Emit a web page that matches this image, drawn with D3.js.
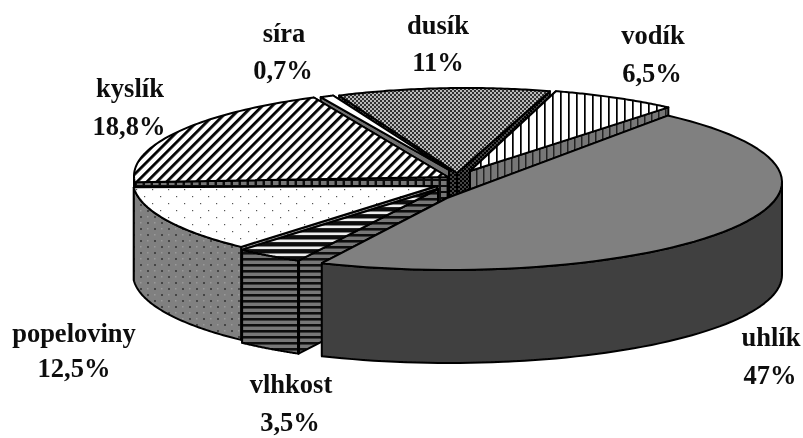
<!DOCTYPE html>
<html><head><meta charset="utf-8">
<script src="https://cdn.jsdelivr.net/npm/d3@7"></script>
<style>html,body{margin:0;padding:0;background:#fff}svg{display:block}text{font-family:"Liberation Serif",serif;font-weight:bold;fill:#111;font-size:26.5px;text-anchor:middle}</style>
</head><body><svg id="c" width="803" height="438"></svg>
<script>
// DATA (clockwise round the pie)
const categories=["uhlík","vlhkost","popeloviny","kyslík","síra","dusík","vodík"];
const values=[47,3.5,12.5,18.8,0.7,11,6.5];
const valueLabels=["47%","3,5%","12,5%","18,8%","0,7%","11%","6,5%"];

// LAYOUT (per category, same order)
const rim=[[450,182,332,88],[446,184,312,87],[445,181,312,87],[450,176,316,87],[460,175,312,87],[466,175,312,87],[472,175,312,87]];
const apex=[[447,198],[438,189],[437,186],[448,177],[449,170],[457,173],[470,171]];
const trim=[[2,-5.5],[0,0],[0,0],[0,1],[0,0],[0,0],[0,0]];
const labelPos=[[771,346,770,384],[291,393,290,431],[74,342,74,377],[130,97,129,135],[284,42,283,79],[438,34,438,71],[653,44,652,82]];
const topFill=["#808080","url(#vlhT)","url(#popT)","url(#kys)","#fff","url(#dus)","url(#vod)"];
const wallFill=["#404040","url(#vlhW)","url(#popW)","url(#wKys)","#707070","url(#wDus)","url(#wVod)"];
const drawOrder=[5,4,6,3,2,1,0];
const depth=93;

const svg=d3.select("#c"),defs=svg.append("defs");
function pat(id,w,h,bg,shapes,rot){
  const p=defs.append("pattern").attr("id",id).attr("width",w).attr("height",h).attr("patternUnits","userSpaceOnUse");
  if(rot)p.attr("patternTransform",`rotate(${rot})`);
  p.append("rect").attr("width",w).attr("height",h).attr("fill",bg);
  shapes.forEach(s=>p.append("rect").attr("x",s[0]).attr("y",s[1]).attr("width",s[2]).attr("height",s[3]).attr("fill",s[4]||"#000"));
}
pat("kys",7,7,"#fff",[[0,0,2.8,7]],45);
pat("vod",8,8,"#fff",[[0,0,1.7,8]]);
pat("dus",4,4,"#bbb",[[0,0,2,2,"#333"],[2,2,2,2,"#333"]]);
pat("popT",16,14,"#fff",[[0,0,1.2,1.2,"#555"],[8,7,1.2,1.2,"#555"]]);
pat("popW",14,12,"#808080",[[0,0,2,2,"#444"],[7,6,2,2,"#444"],[7,0,1.5,1.5,"#9a9a9a"],[0,6,1.5,1.5,"#9a9a9a"]]);
pat("vlhT",7,7,"#111",[[0,1.5,7,2.6,"#eee"]]);
pat("vlhW",6,6,"#777",[[0,0,6,2.6,"#111"]]);
pat("wVod",7,6,"#777",[[0,0,1.5,6,"#222"]]);
pat("wKys",8,6,"#111",[[1,1,5.5,4,"#777"]]);
pat("wDus",4,4,"#444",[[0,0,2,2,"#000"],[2,2,2,2,"#000"]]);
defs.append("filter").attr("id","soft").attr("x","-5%").attr("y","-5%").attr("width","110%").attr("height","110%")
  .append("feGaussianBlur").attr("stdDeviation",0.45);

const rad=Math.PI/180;
const arcs=d3.pie().value(d=>d).sort(null).startAngle(39*rad).endAngle(399*rad)(values);
const line=d3.line();
const geo=arcs.map((a,i)=>{
  const [cx,cy,rx,ry]=rim[i];
  const sx=d3.scaleLinear().domain([-1,1]).range([cx-rx,cx+rx]);
  const sy=d3.scaleLinear().domain([-1,1]).range([cy-ry,cy+ry]);
  const a0=a.startAngle+trim[i][0]*rad,a1=a.endAngle+trim[i][1]*rad;
  const pt=t=>[sx(Math.sin(t)),sy(-Math.cos(t))];
  const sample=(p,q)=>d3.range(0,61).map(k=>pt(p+(q-p)*k/60));
  return {a0,a1,pt,sample,apex:apex[i]};
});
const down=p=>[p[0],p[1]+depth];
const root=svg.append("g").attr("filter","url(#soft)");
const g=root.append("g").attr("stroke","#000").attr("stroke-width",2).attr("stroke-linejoin","round");
const fl=Math.PI/2, fr=3*Math.PI/2;
drawOrder.forEach(i=>{
  const s=geo[i];
  // radial walls, the one whose rim end lies further back first
  [s.a0,s.a1].map(s.pt).sort((u,v)=>u[1]-v[1]).forEach(r=>{
    g.append("path").attr("d",line([s.apex,r,down(r),down(s.apex)])+"Z").attr("fill",wallFill[i]);
  });
  const p=Math.max(s.a0,fl),q=Math.min(s.a1,fr);
  if(q>p){
    const t=s.sample(p,q);
    g.append("path").attr("d",line(t.concat(t.map(down).reverse()))+"Z").attr("fill",wallFill[i]);
  }
  if(categories[i]==="vlhkost"){const r=s.pt(s.a0);g.append("path").attr("d",line([r,down(r)])).attr("stroke-width",3);}
  g.append("path").attr("d",line([s.apex].concat(s.sample(s.a0,s.a1)))+"Z").attr("fill",topFill[i]);
});
categories.forEach((c,i)=>{
  const [x1,y1,x2,y2]=labelPos[i];
  root.append("text").attr("x",x1).attr("y",y1).text(c);
  root.append("text").attr("x",x2).attr("y",y2).text(valueLabels[i]);
});
</script></body></html>
